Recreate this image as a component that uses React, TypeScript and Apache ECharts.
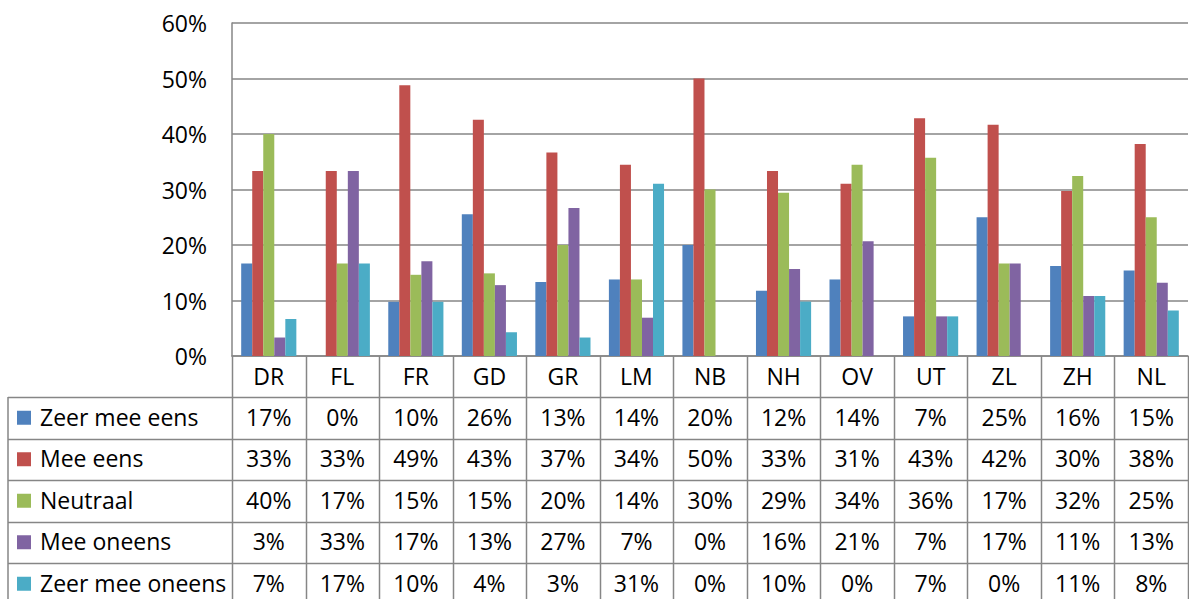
import React, { useEffect, useRef } from "react";
import * as echarts from "echarts";

const categories = ["DR", "FL", "FR", "GD", "GR", "LM", "NB", "NH", "OV", "UT", "ZL", "ZH", "NL"];
const seriesNames = ["Zeer mee eens", "Mee eens", "Neutraal", "Mee oneens", "Zeer mee oneens"];
const colors = ["#4F81BD", "#C0504D", "#9BBB59", "#8064A2", "#4BACC6"];

const zeerMeeEens = [16.67, 0, 9.76, 25.53, 13.33, 13.79, 20, 11.76, 13.79, 7.14, 25, 16.22, 15.4];
const meeEens = [33.33, 33.33, 48.78, 42.55, 36.67, 34.48, 50, 33.33, 31.03, 42.86, 41.67, 29.73, 38.2];
const neutraal = [40, 16.67, 14.63, 14.89, 20, 13.79, 30, 29.41, 34.48, 35.71, 16.67, 32.43, 25.0];
const meeOneens = [3.33, 33.33, 17.07, 12.77, 26.67, 6.9, 0, 15.69, 20.69, 7.14, 16.67, 10.81, 13.2];
const zeerMeeOneens = [6.67, 16.67, 9.76, 4.26, 3.33, 31.03, 0, 9.8, 0, 7.14, 0, 10.81, 8.2];

const seriesData = [zeerMeeEens, meeEens, neutraal, meeOneens, zeerMeeOneens];
const yTicks = [0, 10, 20, 30, 40, 50, 60];

const FONT = "'Open Sans', sans-serif";
const FS = 23;
const LINE = "#868686";

export default function App() {
  const ref = useRef<HTMLDivElement>(null);
  useEffect(() => {
    if (!ref.current) return;
    const chart = echarts.init(ref.current, null, { renderer: "svg" });
    const gridLeft = 232;
    const gridTop = 23;
    const gridBottomY = 356;
    const gridWidth = 956;
    const colW = gridWidth / categories.length;
    const headerBottom = 397;
    const rowH = 41.5;
    const tableLeft = 8;
    const tableBottom = headerBottom + rowH * seriesNames.length;

    const graphics: any[] = [];
    for (let i = 0; i <= categories.length; i++) {
      const x = Math.round(gridLeft + i * colW) + 0.5;
      graphics.push({ type: "line", shape: { x1: x, y1: gridBottomY, x2: x, y2: tableBottom }, style: { stroke: LINE, lineWidth: 1.5 }, silent: true });
    }
    graphics.push({ type: "line", shape: { x1: tableLeft, y1: headerBottom, x2: tableLeft, y2: tableBottom }, style: { stroke: LINE, lineWidth: 1.5 }, silent: true });
    for (let r = 0; r <= seriesNames.length; r++) {
      const y = Math.round(headerBottom + r * rowH) + 0.5;
      graphics.push({ type: "line", shape: { x1: tableLeft, y1: y, x2: gridLeft + gridWidth, y2: y }, style: { stroke: LINE, lineWidth: 1.5 }, silent: true });
    }
    categories.forEach((c, i) => {
      graphics.push({ type: "text", x: gridLeft + (i + 0.5) * colW, y: (gridBottomY + headerBottom) / 2 - 1, style: { text: c, fill: "#000", font: `${FS}px ${FONT}`, align: "center", verticalAlign: "middle" }, silent: true });
    });
    seriesNames.forEach((name, r) => {
      const cy = headerBottom + (r + 0.5) * rowH;
      graphics.push({ type: "rect", shape: { x: 17, y: cy - 7, width: 14, height: 14 }, style: { fill: colors[r] }, silent: true });
      graphics.push({ type: "text", x: 40, y: cy - 1, style: { text: name, fill: "#000", font: `${FS}px ${FONT}`, align: "left", verticalAlign: "middle" }, silent: true });
      seriesData[r].forEach((v, i) => {
        graphics.push({ type: "text", x: gridLeft + (i + 0.5) * colW, y: cy - 1, style: { text: Math.round(v) + "%", fill: "#000", font: `${FS}px ${FONT}`, align: "center", verticalAlign: "middle" }, silent: true });
      });
    });

    chart.setOption({
      animation: false,
      backgroundColor: "#fff",
      grid: { left: gridLeft, top: gridTop, width: gridWidth, height: gridBottomY - gridTop },
      xAxis: {
        type: "category",
        data: categories,
        axisLine: { show: true, lineStyle: { color: LINE, width: 1.5 } },
        axisTick: { show: false },
        axisLabel: { show: false },
      },
      yAxis: {
        type: "value",
        min: yTicks[0],
        max: yTicks[yTicks.length - 1],
        interval: 10,
        axisLine: { show: true, lineStyle: { color: LINE, width: 1.5 } },
        axisTick: { show: false },
        splitLine: { show: true, lineStyle: { color: LINE, width: 1.5 } },
        axisLabel: { formatter: "{value}%", margin: 25, color: "#000", fontSize: FS, fontFamily: FONT },
      },
      series: seriesNames.map((n, i) => ({
        name: n,
        type: "bar",
        data: seriesData[i],
        itemStyle: { color: colors[i] },
        barGap: "0%",
        barCategoryGap: "25%",
      })),
      graphic: graphics,
    });
    return () => chart.dispose();
  }, []);
  return <div ref={ref} style={{ position: "absolute", left: 0, top: 0, width: 1189, height: 599 }} />;
}
